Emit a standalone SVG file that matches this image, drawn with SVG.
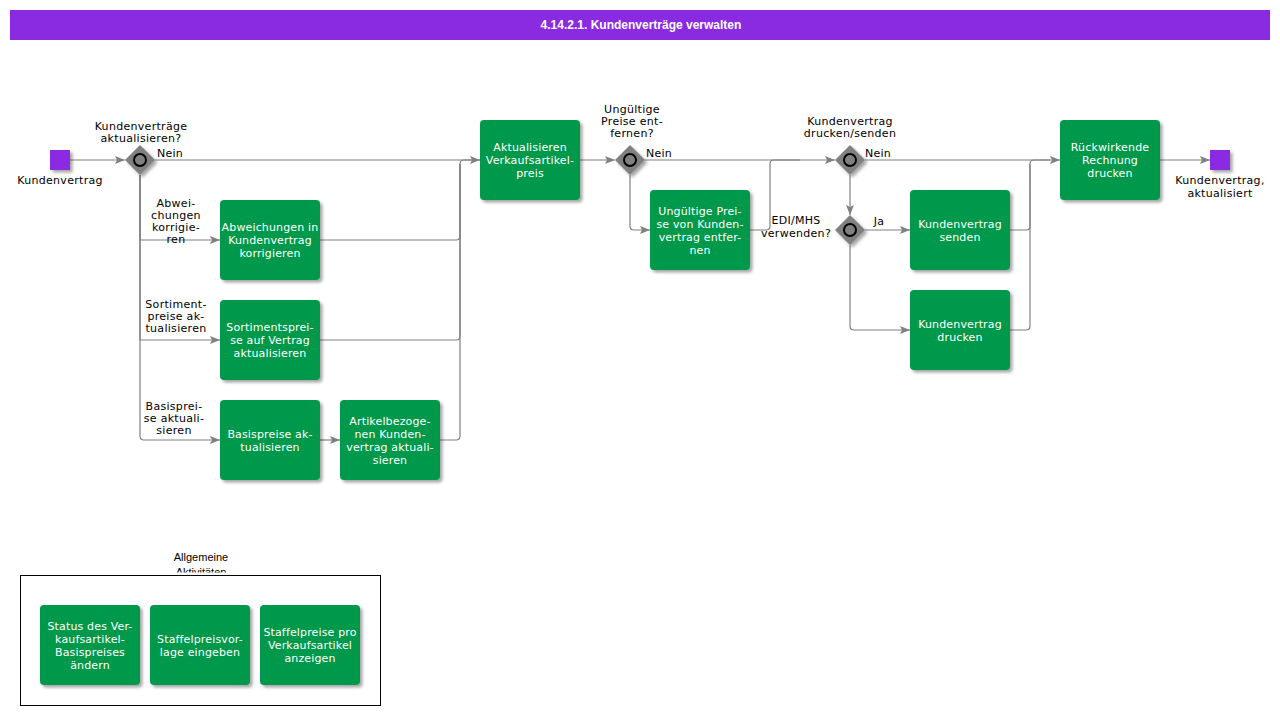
<svg xmlns="http://www.w3.org/2000/svg" width="1280" height="715" viewBox="0 0 1280 715">
<defs>
<style>
.t{font-family:"DejaVu Sans",Verdana,sans-serif;font-size:11px;fill:#000;text-anchor:middle;letter-spacing:0.3px}
.w{font-family:"DejaVu Sans",Verdana,sans-serif;font-size:11px;fill:#fff;text-anchor:middle;letter-spacing:0.15px}
.a{font-family:"Liberation Sans",Arial,sans-serif;font-size:11px;fill:#000;text-anchor:middle}
.task{fill:#00994c;filter:url(#sh)}
.gw{fill:#808080;filter:url(#sh)}
.gc{fill:none;stroke:#000;stroke-width:2}
.ev{fill:#8a2be2;filter:url(#sh)}
.c{fill:none;stroke:#808080;stroke-width:1.2}
.ar{marker-end:url(#arr)}
</style>
<filter id="sh" x="-20%" y="-20%" width="150%" height="150%">
<feDropShadow dx="2.5" dy="2.5" stdDeviation="1.5" flood-color="#000" flood-opacity="0.35"/>
</filter>
<marker id="arr" viewBox="0 0 10 8" refX="10" refY="4" markerWidth="10" markerHeight="8" markerUnits="userSpaceOnUse" orient="auto">
<path d="M0,0 L10,4 L0,8 L2,4 Z" fill="#808080"/>
</marker>
<clipPath id="lclip"><rect x="100" y="540" width="200" height="32.5"/></clipPath>
</defs>
<rect x="0" y="0" width="1280" height="715" fill="#fff"/>
<g id="title">
<rect x="10" y="10" width="1260" height="30" fill="#8a2be2"/>
<text x="641" y="29" font-family="'Liberation Sans',Arial,sans-serif" font-size="12" font-weight="bold" fill="#fff" text-anchor="middle">4.14.2.1. Kundenverträge verwalten</text>
</g>
<g id="connectors">
<path class="c ar" d="M70,160 L125,160"/>
<path class="c ar" d="M155,160 L480,160"/>
<path class="c ar" d="M140,175 L140,240 L220,240"/>
<path class="c ar" d="M140,175 L140,340 L220,340"/>
<path class="c ar" d="M140,175 L140,436 Q140,440 144,440 L220,440"/>
<path class="c" d="M320,240 L456,240 Q460,240 460,236 L460,164 Q460,160 464,160 L480,160"/>
<path class="c" d="M320,340 L456,340 Q460,340 460,336 L460,164"/>
<path class="c" d="M440,440 L456,440 Q460,440 460,436 L460,164"/>
<path class="c ar" d="M320,440 L340,440"/>
<path class="c ar" d="M580,160 L615,160"/>
<path class="c ar" d="M645,160 L835,160"/>
<path class="c ar" d="M630,175 L630,226 Q630,230 634,230 L650,230"/>
<path class="c" d="M750,230 L766,230 Q770,230 770,226 L770,164 Q770,160 774,160 L800,160"/>
<path class="c ar" d="M865,160 L1060,160"/>
<path class="c ar" d="M850,175 L850,215"/>
<path class="c ar" d="M865,230 L910,230"/>
<path class="c ar" d="M850,245 L850,326 Q850,330 854,330 L910,330"/>
<path class="c" d="M1010,230 L1026,230 Q1030,230 1030,226 L1030,164 Q1030,160 1034,160 L1050,160"/>
<path class="c" d="M1010,330 L1026,330 Q1030,330 1030,326 L1030,164"/>
<path class="c ar" d="M1160,160 L1210,160"/>
</g>
<g id="start">
<rect class="ev" x="50" y="150" width="20" height="20"/>
<text class="t" x="60" y="184">Kundenvertrag</text>
</g>
<g id="end">
<rect class="ev" x="1210" y="150" width="20" height="20"/>
<text class="t" x="1220" y="184">Kundenvertrag,</text>
<text class="t" x="1220" y="197">aktualisiert</text>
</g>
<g id="gw1">
<path class="gw" d="M140,145 L155,160 L140,175 L125,160 Z"/>
<circle class="gc" cx="140" cy="160" r="6"/>
<text class="t" x="141" y="130">Kundenverträge</text>
<text class="t" x="141" y="142">aktualisieren?</text>
<text class="t" x="170" y="157">Nein</text>
</g>
<g id="gw2">
<path class="gw" d="M630,145 L645,160 L630,175 L615,160 Z"/>
<circle class="gc" cx="630" cy="160" r="6"/>
<text class="t" x="632" y="113">Ungültige</text>
<text class="t" x="632" y="125">Preise ent-</text>
<text class="t" x="632" y="137">fernen?</text>
<text class="t" x="659" y="157">Nein</text>
</g>
<g id="gw3">
<path class="gw" d="M850,145 L865,160 L850,175 L835,160 Z"/>
<circle class="gc" cx="850" cy="160" r="6"/>
<text class="t" x="850" y="125">Kundenvertrag</text>
<text class="t" x="850" y="137">drucken/senden</text>
<text class="t" x="878" y="157">Nein</text>
</g>
<g id="gw4">
<path class="gw" d="M850,215 L865,230 L850,245 L835,230 Z"/>
<circle class="gc" cx="850" cy="230" r="6"/>
<text class="t" x="796" y="224">EDI/MHS</text>
<text class="t" x="796" y="237">verwenden?</text>
<text class="t" x="879" y="225">Ja</text>
</g>
<g id="branch-labels">
<text class="t" x="176" y="207">Abwei-</text>
<text class="t" x="176" y="219">chungen</text>
<text class="t" x="176" y="231">korrigie-</text>
<text class="t" x="176" y="243">ren</text>
<text class="t" x="176" y="308">Sortiment-</text>
<text class="t" x="176" y="320">preise ak-</text>
<text class="t" x="176" y="332">tualisieren</text>
<text class="t" x="174" y="410">Basisprei-</text>
<text class="t" x="174" y="422">se aktuali-</text>
<text class="t" x="174" y="434">sieren</text>
</g>
<g id="t-abw">
<rect class="task" x="220" y="200" width="100" height="80" rx="4"/>
<text class="w" x="270" y="231">Abweichungen in</text>
<text class="w" x="270" y="244">Kundenvertrag</text>
<text class="w" x="270" y="257">korrigieren</text>
</g>
<g id="t-sort">
<rect class="task" x="220" y="300" width="100" height="80" rx="4"/>
<text class="w" x="270" y="331">Sortimentsprei-</text>
<text class="w" x="270" y="344">se auf Vertrag</text>
<text class="w" x="270" y="357">aktualisieren</text>
</g>
<g id="t-basis">
<rect class="task" x="220" y="400" width="100" height="80" rx="4"/>
<text class="w" x="270" y="437.5">Basispreise ak-</text>
<text class="w" x="270" y="450.5">tualisieren</text>
</g>
<g id="t-artikel">
<rect class="task" x="340" y="400" width="100" height="80" rx="4"/>
<text class="w" x="390" y="424.5">Artikelbezoge-</text>
<text class="w" x="390" y="437.5">nen Kunden-</text>
<text class="w" x="390" y="450.5">vertrag aktuali-</text>
<text class="w" x="390" y="463.5">sieren</text>
</g>
<g id="t-vkpreis">
<rect class="task" x="480" y="120" width="100" height="80" rx="4"/>
<text class="w" x="530" y="151">Aktualisieren</text>
<text class="w" x="530" y="164">Verkaufsartikel-</text>
<text class="w" x="530" y="177">preis</text>
</g>
<g id="t-ungueltig">
<rect class="task" x="650" y="190" width="100" height="80" rx="4"/>
<text class="w" x="700" y="214.5">Ungültige Prei-</text>
<text class="w" x="700" y="227.5">se von Kunden-</text>
<text class="w" x="700" y="240.5">vertrag entfer-</text>
<text class="w" x="700" y="253.5">nen</text>
</g>
<g id="t-senden">
<rect class="task" x="910" y="190" width="100" height="80" rx="4"/>
<text class="w" x="960" y="227.5">Kundenvertrag</text>
<text class="w" x="960" y="240.5">senden</text>
</g>
<g id="t-drucken">
<rect class="task" x="910" y="290" width="100" height="80" rx="4"/>
<text class="w" x="960" y="327.5">Kundenvertrag</text>
<text class="w" x="960" y="340.5">drucken</text>
</g>
<g id="t-rechnung">
<rect class="task" x="1060" y="120" width="100" height="80" rx="4"/>
<text class="w" x="1110" y="151">Rückwirkende</text>
<text class="w" x="1110" y="164">Rechnung</text>
<text class="w" x="1110" y="177">drucken</text>
</g>
<g id="legend">
<g clip-path="url(#lclip)">
<text class="a" x="201" y="561">Allgemeine</text>
<text class="a" x="201" y="576">Aktivitäten</text>
</g>
<rect x="20.5" y="575.5" width="360" height="130" fill="#fff" stroke="#000" stroke-width="1"/>
</g>
<g id="l-status">
<rect class="task" x="40" y="605" width="100" height="80" rx="4"/>
<text class="w" x="90" y="629.5">Status des Ver-</text>
<text class="w" x="90" y="642.5">kaufsartikel-</text>
<text class="w" x="90" y="655.5">Basispreises</text>
<text class="w" x="90" y="668.5">ändern</text>
</g>
<g id="l-vorlage">
<rect class="task" x="150" y="605" width="100" height="80" rx="4"/>
<text class="w" x="200" y="642.5">Staffelpreisvor-</text>
<text class="w" x="200" y="655.5">lage eingeben</text>
</g>
<g id="l-anzeigen">
<rect class="task" x="260" y="605" width="100" height="80" rx="4"/>
<text class="w" x="310" y="636">Staffelpreise pro</text>
<text class="w" x="310" y="649">Verkaufsartikel</text>
<text class="w" x="310" y="662">anzeigen</text>
</g>
</svg>
